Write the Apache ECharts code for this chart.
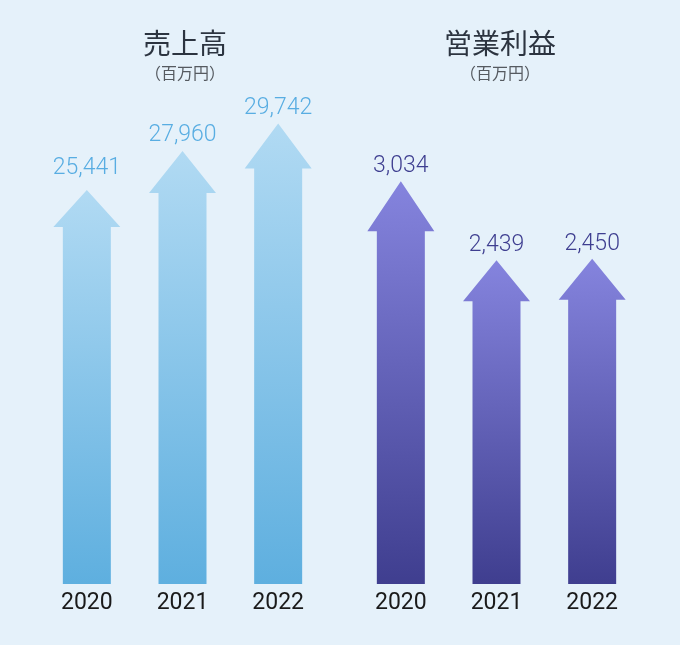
<!DOCTYPE html>
<html><head><meta charset="utf-8">
<script src="https://cdn.jsdelivr.net/npm/echarts@6/dist/echarts.min.js"></script>
<style>html,body{margin:0;padding:0;background:#e5f1fa;}#c{width:680px;height:645px;}</style>
</head><body><div id="c"></div>
<script>
const years = ['2020', '2021', '2022'];
const salesValues = [25441, 27960, 29742];
const profitValues = [3034, 2439, 2450];
const salesTitle = '売上高';
const profitTitle = '営業利益';
const unitLabel = '（百万円）';

// style constants (not data)
const salesHeadH = [37, 42, 45];
const profitHeadH = [50, 41, 41];
const salesLabelGap = [14, 8, 8];
const profitLabelGap = [7, 7, 7];

function fmt(v){ return v.toLocaleString('en-US'); }

function makeRender(headHs, gaps, topC, botC, labelC){
  return function(params, api){
    const i = params.dataIndex;
    const tip = api.coord([api.value(0), api.value(1)]);
    const base = api.coord([api.value(0), 0]);
    const cx = tip[0], ty = tip[1], by = base[1];
    const sw = 24, hw = 33.5, hh = headHs[i];
    return {
      type: 'group',
      children: [{
        type: 'polygon',
        shape: { points: [[cx-sw, by], [cx-sw, ty+hh], [cx-hw, ty+hh], [cx, ty], [cx+hw, ty+hh], [cx+sw, ty+hh], [cx+sw, by]] },
        style: { fill: { type: 'linear', x: 0, y: 0, x2: 0, y2: 1, colorStops: [{offset: 0, color: topC}, {offset: 1, color: botC}] } }
      }, {
        type: 'text',
        style: { text: fmt(api.value(1)), x: cx, y: ty - gaps[i] + 4, align: 'center', verticalAlign: 'bottom',
          fill: labelC, fontSize: 23, fontFamily: 'Roboto', fontWeight: 300 }
      }]
    };
  };
}

const chart = echarts.init(document.getElementById('c'));
const axisCommon = {
  type: 'category', data: years,
  axisLine: { show: false }, axisTick: { show: false },
  axisLabel: { color: '#1a1a1a', fontSize: 23, fontFamily: 'Roboto', margin: 8 }
};
function titleItem(text, x){
  return { text: text, subtext: unitLabel, left: x, top: 24, textAlign: 'center', itemGap: 8,
    textStyle: { fontSize: 28, fontWeight: 'normal', color: '#2c3440', fontFamily: 'Noto Sans CJK JP' },
    subtextStyle: { fontSize: 16, color: '#555a60', fontFamily: 'Noto Sans CJK JP' } };
}
chart.setOption({
  backgroundColor: '#e5f1fa',
  animation: false,
  title: [ titleItem(salesTitle, 180), titleItem(profitTitle, 495) ],
  grid: [
    { left: 39, width: 287, top: 42, bottom: 61 },
    { left: 353, width: 287, top: 53, bottom: 61 }
  ],
  xAxis: [
    Object.assign({ gridIndex: 0 }, axisCommon),
    Object.assign({ gridIndex: 1 }, axisCommon)
  ],
  yAxis: [
    { type: 'value', gridIndex: 0, min: 0, max: 35000, show: false },
    { type: 'value', gridIndex: 1, min: 0, max: 4000, show: false }
  ],
  series: [
    { type: 'custom', xAxisIndex: 0, yAxisIndex: 0,
      data: salesValues.map((v, i) => [i, v]),
      renderItem: makeRender(salesHeadH, salesLabelGap, '#b1daf3', '#5eafdf', '#58ade2') },
    { type: 'custom', xAxisIndex: 1, yAxisIndex: 1,
      data: profitValues.map((v, i) => [i, v]),
      renderItem: makeRender(profitHeadH, profitLabelGap, '#8584de', '#3f3e8f', '#3e3e90') }
  ]
});
</script></body></html>
